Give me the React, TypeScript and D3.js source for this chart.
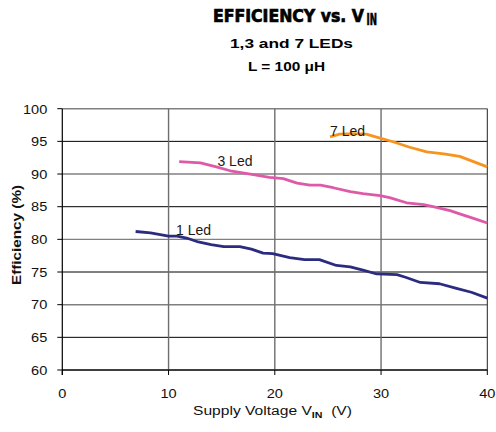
import { useLayoutEffect, useRef, useState } from 'react'
import * as d3 from 'd3'

// efficiency curves
const led1V = [6.9, 8.3, 10.0, 10.8, 11.7, 12.8, 14.0, 15.2, 16.7, 17.8, 18.9, 19.8, 21.4, 22.8, 24.2, 25.8, 27.1, 28.3, 29.6, 31.5, 32.3, 33.7, 35.5, 37.1, 38.5, 40.0]
const led1Eff = [81.2, 81.0, 80.5, 80.5, 80.2, 79.6, 79.2, 78.9, 78.9, 78.5, 77.9, 77.8, 77.2, 76.9, 76.9, 76.0, 75.8, 75.3, 74.7, 74.6, 74.2, 73.4, 73.2, 72.5, 71.9, 71.0]

const led3V = [11.0, 13.0, 14.5, 15.8, 17.7, 19.5, 20.8, 22.1, 23.3, 24.3, 25.5, 27.1, 28.3, 29.9, 30.8, 32.4, 34.0, 34.9, 36.5, 37.4, 38.7, 40.0]
const led3Eff = [91.9, 91.7, 91.1, 90.5, 90.0, 89.5, 89.3, 88.6, 88.3, 88.3, 87.9, 87.3, 87.0, 86.7, 86.4, 85.6, 85.3, 85.0, 84.4, 83.9, 83.2, 82.5]

const led7V = [25.2, 26.1, 27.4, 28.6, 29.9, 31.2, 32.7, 34.3, 35.9, 37.4, 38.7, 40.0]
const led7Eff = [95.7, 96.1, 96.2, 96.1, 95.5, 94.9, 94.1, 93.4, 93.1, 92.7, 91.9, 91.1]

const seriesNames = ['1 Led', '3 Led', '7 Led']
const seriesColors = ['#2b2c7f', '#de5aa8', '#f7941d']
const labelV = [10.7, 14.6, 25.2]
const labelEff = [80.6, 91.3, 95.8]

const xTicks = [0, 10, 20, 30, 40]
const yTicks = [60, 65, 70, 75, 80, 85, 90, 95, 100]

const W = 496
const H = 432
const font = 'Arial, "Liberation Sans", Helvetica, sans-serif'
const narrow = '"Liberation Sans Narrow", "DejaVu Sans Condensed", Arial, sans-serif'

export default function App() {
  const titleRef = useRef<SVGTextElement>(null)
  const subRef = useRef<SVGTextElement>(null)
  const [sx, setSx] = useState([0.8, 0.8])

  // squeeze the title into the condensed width of the original
  useLayoutEffect(() => {
    const a = titleRef.current?.getComputedTextLength() ?? 0
    const b = subRef.current?.getComputedTextLength() ?? 0
    setSx([a ? 151 / a : 0.8, b ? 10.5 / b : 0.8])
  }, [])

  const x = d3.scaleLinear().domain([0, 40]).range([62.3, 487.3])
  const y = d3.scaleLinear().domain([60, 100]).range([370, 108.7])

  const line = d3.line<[number, number]>().x(d => x(d[0])).y(d => y(d[1]))

  const series = [
    d3.zip(led1V, led1Eff) as [number, number][],
    d3.zip(led3V, led3Eff) as [number, number][],
    d3.zip(led7V, led7Eff) as [number, number][],
  ]

  return (
    <svg width={W} height={H} style={{ position: 'absolute', left: 0, top: 0, background: '#fff' }}>
      {/* titles */}
      <text ref={titleRef} transform={`translate(213,21.7) scale(${sx[0]},1)`} fontFamily={narrow}
        fontWeight="bold" fontSize={18.5} fill="#000" stroke="#000" strokeWidth={0.7}>
        EFFICIENCY vs. V
      </text>
      <text ref={subRef} transform={`translate(366.5,24.8) scale(${sx[1]},1)`} fontFamily={narrow}
        fontWeight="bold" fontSize={15.5} fill="#000" stroke="#000" strokeWidth={0.6}>
        IN
      </text>
      <text x={230} y={48.3} fontFamily={font} fontWeight="bold" fontSize={12}
        textLength={123} lengthAdjust="spacingAndGlyphs" fill="#000">1,3 and 7 LEDs</text>
      <text x={248} y={70.5} fontFamily={font} fontWeight="bold" fontSize={12}
        textLength={77} lengthAdjust="spacingAndGlyphs" fill="#000">L = 100 μH</text>

      {/* horizontal grid */}
      {yTicks.map(t => (
        <line key={'h' + t} x1={x(0)} x2={x(40)} y1={y(t)} y2={y(t)}
          stroke={t % 10 === 0 && t !== 60 ? '#808080' : '#000'}
          strokeWidth={t % 10 === 0 && t !== 60 ? 1.4 : 1} />
      ))}
      {/* vertical grid */}
      {xTicks.filter(t => t > 0).map(t => (
        <line key={'v' + t} x1={x(t)} x2={x(t)} y1={y(100)} y2={y(60)}
          stroke={t === 40 ? '#222' : '#6e6e6e'} strokeWidth={t === 40 ? 1 : 1.4} />
      ))}

      {/* axes */}
      <line x1={x(0)} x2={x(0)} y1={y(100)} y2={y(60) + 5} stroke="#000" strokeWidth={1.2} />
      <line x1={x(0)} x2={x(40)} y1={y(60)} y2={y(60)} stroke="#000" strokeWidth={1.2} />
      {yTicks.map(t => (
        <g key={'yt' + t}>
          <line x1={x(0) - 5} x2={x(0)} y1={y(t)} y2={y(t)} stroke="#000" />
          <text transform={`translate(${x(0) - 15},${y(t) + 4.8}) scale(1.12,1)`} textAnchor="end"
            fontFamily={font} fontSize={13} fill="#111">{t}</text>
        </g>
      ))}
      {xTicks.map(t => (
        <g key={'xt' + t}>
          <line x1={x(t)} x2={x(t)} y1={y(60)} y2={y(60) + 5} stroke="#000" />
          <text transform={`translate(${x(t)},${y(60) + 28.3}) scale(1.12,1)`} textAnchor="middle"
            fontFamily={font} fontSize={13} fill="#111">{t}</text>
        </g>
      ))}

      {/* axis titles */}
      <text transform={`translate(20.5,${235}) rotate(-90)`} textAnchor="middle" fontFamily={font}
        fontWeight="bold" fontSize={12} textLength={100} lengthAdjust="spacingAndGlyphs" fill="#111">
        Efficiency (%)
      </text>
      <text x={193} y={415} fontFamily={font} fontSize={12.5} fill="#111"
        textLength={159} lengthAdjust="spacingAndGlyphs">
        Supply Voltage V<tspan dy={3} fontSize={8.5} fontWeight="bold">IN</tspan><tspan dy={-3}>{'\u00a0\u00a0'}(V)</tspan>
      </text>

      {/* curves */}
      {series.map((s, i) => (
        <path key={seriesNames[i]} d={line(s) ?? ''} fill="none" stroke={seriesColors[i]}
          strokeWidth={2.8} strokeLinejoin="round" strokeLinecap="butt" />
      ))}
      {seriesNames.map((n, i) => (
        <text key={'lbl' + n} x={x(labelV[i])} y={y(labelEff[i])} fontFamily={font} fontSize={14}
          fill="#1a1a1a">{n}</text>
      ))}
    </svg>
  )
}
